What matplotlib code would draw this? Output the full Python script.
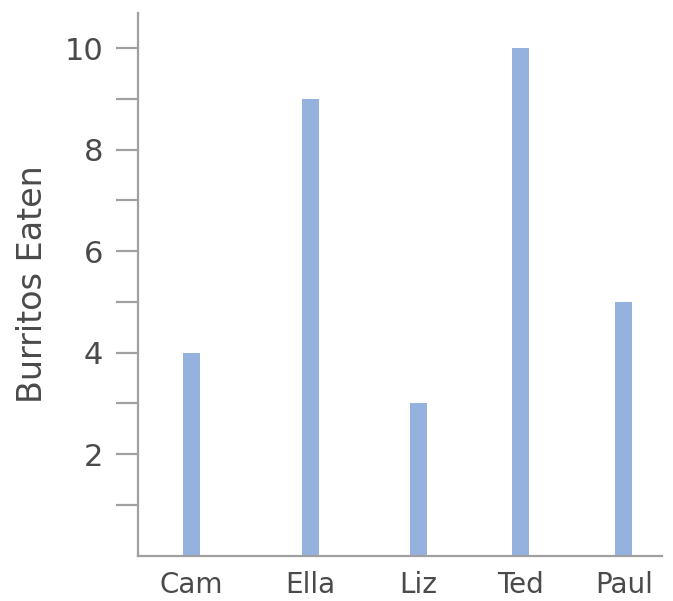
import matplotlib
matplotlib.use("Agg")
import matplotlib.pyplot as plt
from matplotlib.ticker import FixedLocator

# Burritos eaten per person
names = ["Cam", "Ella", "Liz", "Ted", "Paul"]
burritos = [4, 9, 3, 10, 5]
major_ticks = [2, 4, 6, 8, 10]
minor_ticks = [1, 3, 5, 7, 9]

# horizontal placement of each bar
positions = [0, 1.155, 2.204, 3.201, 4.201]

bar_color = "#95b2de"
axis_color = "#a0a0a0"
text_color = "#4a4a4a"

plt.rcParams["font.family"] = ["DejaVu Sans"]

fig = plt.figure(figsize=(6.73, 6.01), dpi=100)
ax = fig.add_axes([0.2046, 0.0754, 0.9832 - 0.2046, 0.9789 - 0.0754])

ax.bar(positions, burritos, width=0.165, color=bar_color, linewidth=0)

ax.set_xlim(-0.52, 4.567)
ax.set_ylim(0, 10.7)

for side in ("top", "right"):
    ax.spines[side].set_visible(False)
for side in ("left", "bottom"):
    ax.spines[side].set_color(axis_color)
    ax.spines[side].set_linewidth(1.6)

ax.yaxis.set_major_locator(FixedLocator(major_ticks))
ax.yaxis.set_minor_locator(FixedLocator(minor_ticks))
ax.set_yticklabels([str(v) for v in major_ticks])
ax.tick_params(axis="y", which="both", direction="out", length=16,
               width=1.6, color=axis_color, pad=9)
ax.tick_params(axis="y", which="major", labelsize=22, labelcolor=text_color)

ax.set_xticks(positions)
ax.set_xticklabels(names)
ax.tick_params(axis="x", length=0, pad=11, labelsize=20, labelcolor=text_color)

ax.set_ylabel("Burritos Eaten", fontsize=24, color=text_color)
ax.yaxis.set_label_coords(-0.17, 0.5)

fig.savefig("out.png", dpi=100)
